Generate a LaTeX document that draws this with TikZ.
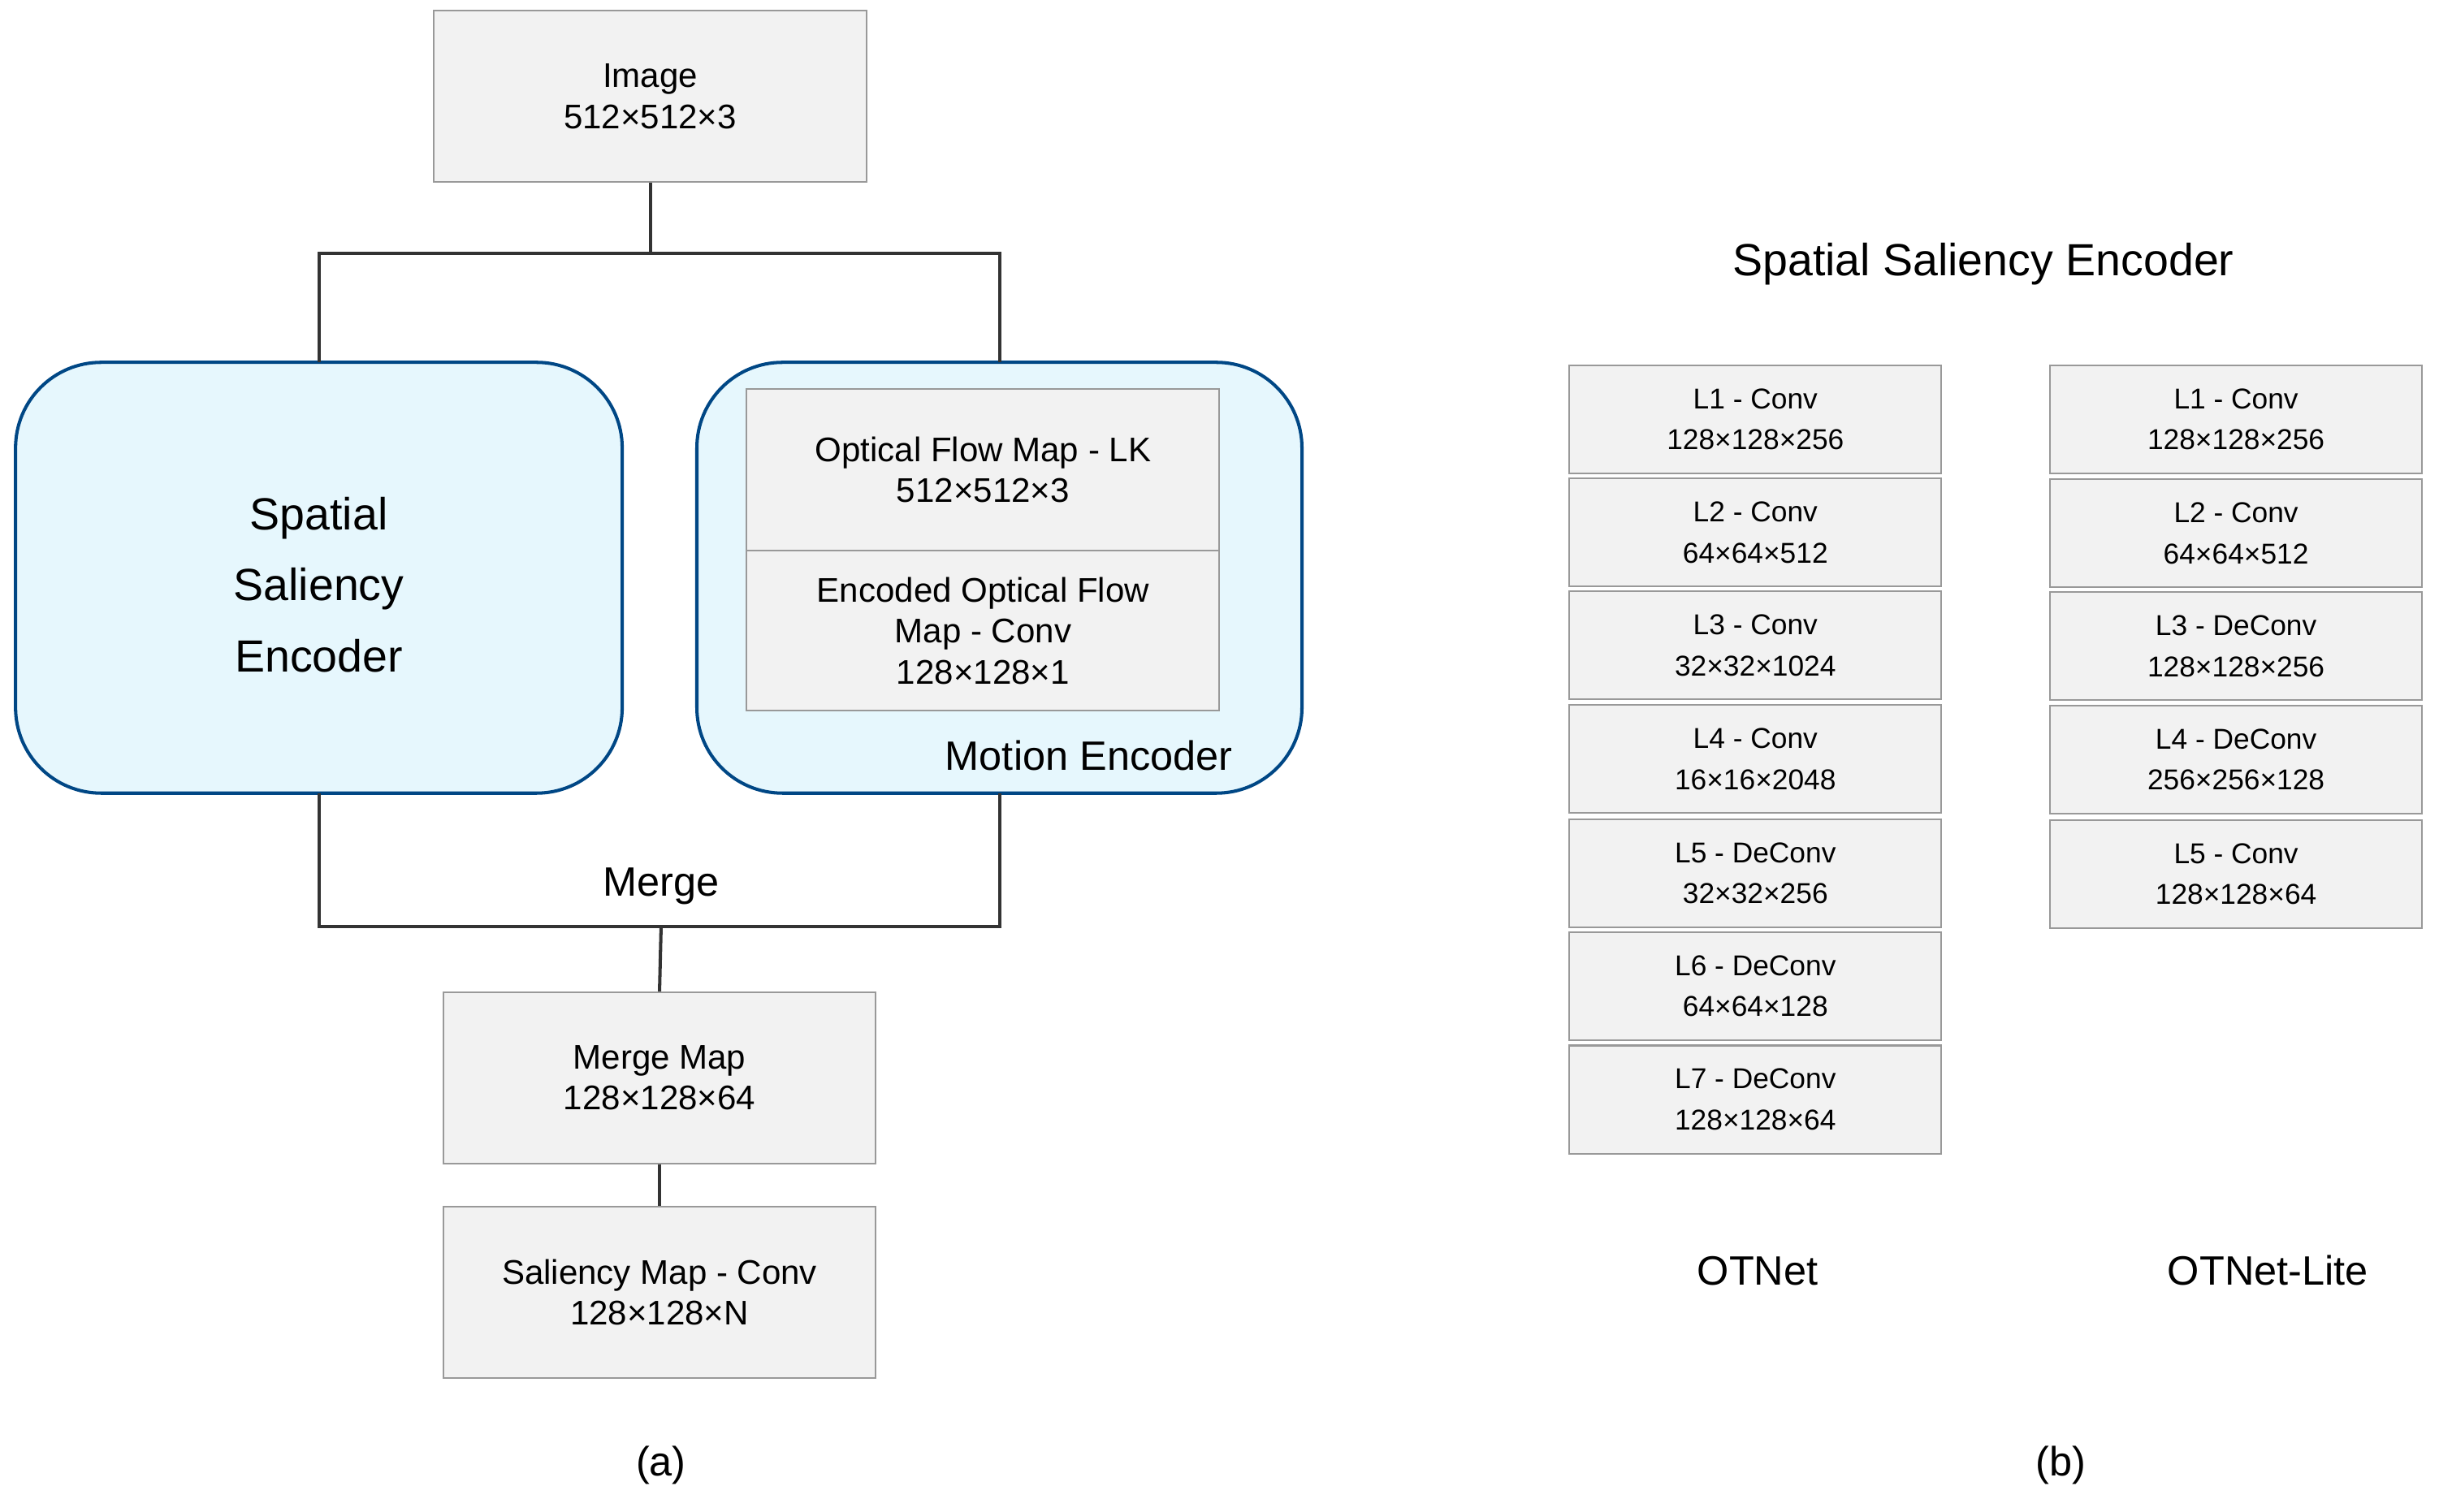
\documentclass[tikz,border=0pt]{standalone}
\usepackage{fontspec}
\setmainfont{Liberation Sans}
\begin{document}
\begin{tikzpicture}[x=0.02cm,y=-0.02cm,
  gbox/.style={draw=black!40,fill=black!5,line width=0.6pt},
  bbox/.style={draw=teal!70!blue!80!black,fill=cyan!10!white,line width=1.2pt,rounded corners=1.1cm},
  ln/.style={line width=1.2pt,draw=black!80},
  mid/.style={font=\fontsize{12.5}{15}\selectfont,align=center},
  sm/.style={font=\fontsize{10.5}{15}\selectfont,align=center},
  big/.style={font=\fontsize{16.5}{20}\selectfont,align=center}]
\useasboundingbox (0,0) rectangle (1568,972);
% (a)
\node[gbox,minimum width=5.56cm,minimum height=2.2cm,mid] (img) at (418,62) {Image\\512×512×3};
\draw[bbox] (10,233) rectangle (400,510);
\node[big,font=\fontsize{16.5}{26}\selectfont] (sse) at (205,376) {Spatial\\Saliency\\Encoder};
\draw[bbox] (448,233) rectangle (837,510);
\node[gbox,minimum width=6.08cm,minimum height=2.08cm,mid] (of) at (632,302) {Optical Flow Map - LK\\512×512×3};
\node[gbox,minimum width=6.08cm,minimum height=2.06cm,mid] (eof) at (632,405.5) {Encoded Optical Flow\\Map - Conv\\128×128×1};
\node[mid,font=\fontsize{15}{18}\selectfont] (me) at (700,486) {Motion Encoder};
\coordinate (t) at (418,163); \coordinate (tl) at (205,163); \coordinate (tr) at (643,163);
\coordinate (sl) at (205,233); \coordinate (sr) at (643,233);
\draw[ln] (img.south) -- (t); \draw[ln] (sl) -- (tl) -- (tr) -- (sr);
\coordinate (bl) at (205,510); \coordinate (br) at (643,510);
\coordinate (ml) at (205,596); \coordinate (mr) at (643,596); \coordinate (mm) at (425,596);
\draw[ln] (bl) -- (ml) -- (mr) -- (br);
\node[mid,font=\fontsize{15}{18}\selectfont] (merge) at (425,570) {Merge};
\node[gbox,minimum width=5.56cm,minimum height=2.2cm,mid] (mmap) at (424,693) {Merge Map\\128×128×64};
\node[gbox,minimum width=5.56cm,minimum height=2.2cm,mid] (smap) at (424,831) {Saliency Map - Conv\\128×128×N};
\draw[ln] (mm) -- (mmap.north); \draw[ln] (mmap.south) -- (smap.north);
\node[mid,font=\fontsize{15}{18}\selectfont] (la) at (425,942) {(a)};
% (b)
\node[big] (title) at (1275,170) {Spatial Saliency Encoder};
\foreach \n/\y/\t in {1/269.5/{L1 - Conv\\128×128×256},2/342.5/{L2 - Conv\\64×64×512},3/415/{L3 - Conv\\32×32×1024},4/488/{L4 - Conv\\16×16×2048},5/561.5/{L5 - DeConv\\32×32×256},6/634/{L6 - DeConv\\64×64×128},7/707/{L7 - DeConv\\128×128×64}}
  \node[gbox,minimum width=4.78cm,minimum height=1.39cm,sm] (a\n) at (1128.5,\y) {\t};
\foreach \n/\y/\t in {1/269.5/{L1 - Conv\\128×128×256},2/343/{L2 - Conv\\64×64×512},3/415.5/{L3 - DeConv\\128×128×256},4/488.5/{L4 - DeConv\\256×256×128},5/562/{L5 - Conv\\128×128×64}}
  \node[gbox,minimum width=4.78cm,minimum height=1.39cm,sm] (b\n) at (1437.5,\y) {\t};
\node[mid,font=\fontsize{15}{18}\selectfont] (otn) at (1130,817) {OTNet};
\node[mid,font=\fontsize{15}{18}\selectfont] (otl) at (1458,817) {OTNet-Lite};
\node[mid,font=\fontsize{15}{18}\selectfont] (lb) at (1325,942) {(b)};
\end{tikzpicture}
\end{document}
